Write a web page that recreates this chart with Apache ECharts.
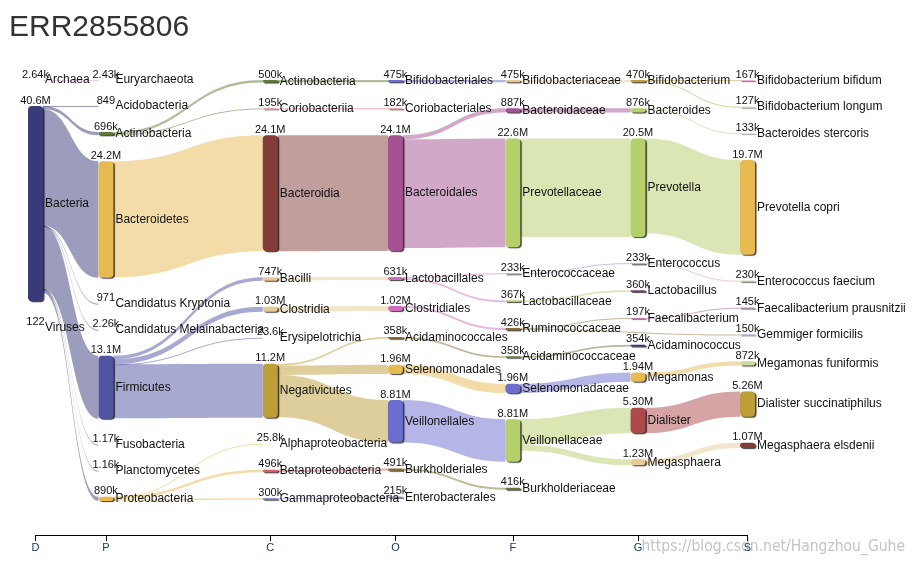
<!DOCTYPE html>
<html><head><meta charset="utf-8">
<script src="https://cdn.jsdelivr.net/npm/echarts@6/dist/echarts.min.js"></script>
<style>html,body{margin:0;padding:0;background:#fff}#c{width:912px;height:565px}</style>
</head><body><div id="c"></div>
<script>
// ---------------- data ----------------
const chartTitle = 'ERR2855806';
const watermark = 'https://blog.csdn.net/Hangzhou_Guhe';
const ranks = ['D', 'P', 'C', 'O', 'F', 'G', 'S'];
// [id, reads]  (text after '#' only makes ids unique)
const rankD = [['Archaea', 2640], ['Bacteria', 40.6e6], ['Viruses', 122]];
const rankP = [['Euryarchaeota', 2430], ['Acidobacteria', 849], ['Actinobacteria', 696e3], ['Bacteroidetes', 24.2e6],
  ['Candidatus Kryptonia', 971], ['Candidatus Melainabacteria', 2260], ['Firmicutes', 13.1e6],
  ['Fusobacteria', 1170], ['Planctomycetes', 1160], ['Proteobacteria', 890e3]];
const rankC = [['Actinobacteria#C', 500e3], ['Coriobacteriia', 195e3], ['Bacteroidia', 24.1e6], ['Bacilli', 747e3],
  ['Clostridia', 1.03e6], ['Erysipelotrichia', 23.6e3], ['Negativicutes', 11.2e6], ['Alphaproteobacteria', 25.8e3],
  ['Betaproteobacteria', 496e3], ['Gammaproteobacteria', 300e3]];
const rankO = [['Bifidobacteriales', 475e3], ['Coriobacteriales', 182e3], ['Bacteroidales', 24.1e6], ['Lactobacillales', 631e3],
  ['Clostridiales', 1.02e6], ['Acidaminococcales', 358e3], ['Selenomonadales', 1.96e6], ['Veillonellales', 8.81e6],
  ['Burkholderiales', 491e3], ['Enterobacterales', 215e3]];
const rankF = [['Bifidobacteriaceae', 475e3], ['Bacteroidaceae', 887e3], ['Prevotellaceae', 22.6e6], ['Enterococcaceae', 233e3],
  ['Lactobacillaceae', 367e3], ['Ruminococcaceae', 426e3], ['Acidaminococcaceae', 358e3], ['Selenomonadaceae', 1.96e6],
  ['Veillonellaceae', 8.81e6], ['Burkholderiaceae', 416e3]];
const rankG = [['Bifidobacterium', 470e3], ['Bacteroides', 876e3], ['Prevotella', 20.5e6], ['Enterococcus', 233e3],
  ['Lactobacillus', 360e3], ['Faecalibacterium', 197e3], ['Acidaminococcus', 354e3], ['Megamonas', 1.94e6],
  ['Dialister', 5.30e6], ['Megasphaera', 1.23e6]];
const rankS = [['Bifidobacterium bifidum', 167e3], ['Bifidobacterium longum', 127e3], ['Bacteroides stercoris', 133e3],
  ['Prevotella copri', 19.7e6], ['Enterococcus faecium', 230e3], ['Faecalibacterium prausnitzii', 145e3],
  ['Gemmiger formicilis', 150e3], ['Megamonas funiformis', 872e3], ['Dialister succinatiphilus', 5.26e6],
  ['Megasphaera elsdenii', 1.07e6]];
// [parent, child]
const treeEdges = [
  ['Archaea', 'Euryarchaeota'],
  ['Bacteria', 'Acidobacteria'], ['Bacteria', 'Actinobacteria'], ['Bacteria', 'Bacteroidetes'],
  ['Bacteria', 'Candidatus Kryptonia'], ['Bacteria', 'Candidatus Melainabacteria'], ['Bacteria', 'Firmicutes'],
  ['Bacteria', 'Fusobacteria'], ['Bacteria', 'Planctomycetes'], ['Bacteria', 'Proteobacteria'],
  ['Actinobacteria', 'Actinobacteria#C'], ['Actinobacteria', 'Coriobacteriia'],
  ['Bacteroidetes', 'Bacteroidia'],
  ['Firmicutes', 'Bacilli'], ['Firmicutes', 'Clostridia'], ['Firmicutes', 'Erysipelotrichia'], ['Firmicutes', 'Negativicutes'],
  ['Proteobacteria', 'Alphaproteobacteria'], ['Proteobacteria', 'Betaproteobacteria'], ['Proteobacteria', 'Gammaproteobacteria'],
  ['Actinobacteria#C', 'Bifidobacteriales'], ['Coriobacteriia', 'Coriobacteriales'], ['Bacteroidia', 'Bacteroidales'],
  ['Bacilli', 'Lactobacillales'], ['Clostridia', 'Clostridiales'],
  ['Negativicutes', 'Acidaminococcales'], ['Negativicutes', 'Selenomonadales'], ['Negativicutes', 'Veillonellales'],
  ['Betaproteobacteria', 'Burkholderiales'], ['Gammaproteobacteria', 'Enterobacterales'],
  ['Bifidobacteriales', 'Bifidobacteriaceae'], ['Bacteroidales', 'Bacteroidaceae'], ['Bacteroidales', 'Prevotellaceae'],
  ['Lactobacillales', 'Enterococcaceae'], ['Lactobacillales', 'Lactobacillaceae'], ['Clostridiales', 'Ruminococcaceae'],
  ['Acidaminococcales', 'Acidaminococcaceae'], ['Selenomonadales', 'Selenomonadaceae'], ['Veillonellales', 'Veillonellaceae'],
  ['Burkholderiales', 'Burkholderiaceae'],
  ['Bifidobacteriaceae', 'Bifidobacterium'], ['Bacteroidaceae', 'Bacteroides'], ['Prevotellaceae', 'Prevotella'],
  ['Enterococcaceae', 'Enterococcus'], ['Lactobacillaceae', 'Lactobacillus'], ['Ruminococcaceae', 'Faecalibacterium'],
  ['Ruminococcaceae', 'Gemmiger formicilis'], ['Acidaminococcaceae', 'Acidaminococcus'], ['Selenomonadaceae', 'Megamonas'],
  ['Veillonellaceae', 'Dialister'], ['Veillonellaceae', 'Megasphaera'],
  ['Bifidobacterium', 'Bifidobacterium bifidum'], ['Bifidobacterium', 'Bifidobacterium longum'],
  ['Bacteroides', 'Bacteroides stercoris'], ['Prevotella', 'Prevotella copri'], ['Enterococcus', 'Enterococcus faecium'],
  ['Faecalibacterium', 'Faecalibacterium prausnitzii'], ['Megamonas', 'Megamonas funiformis'],
  ['Dialister', 'Dialister succinatiphilus'], ['Megasphaera', 'Megasphaera elsdenii']
];

// ---------------- styles / layout ----------------
const columnSlot = [0, 9, 30, 46, 61, 77, 91]; // horizontal column slots of the ranks
const nodeColor = {
  'Archaea': '#de9ed6', 'Bacteria': '#393b79', 'Viruses': '#9c9ede',
  'Euryarchaeota': '#e7969c', 'Acidobacteria': '#9c9ede', 'Actinobacteria': '#637939', 'Bacteroidetes': '#e7ba52',
  'Candidatus Kryptonia': '#cedb9c', 'Candidatus Melainabacteria': '#9c9ede', 'Firmicutes': '#5254a3',
  'Fusobacteria': '#9c9ede', 'Planctomycetes': '#9c9ede', 'Proteobacteria': '#e7ba52',
  'Actinobacteria#C': '#637939', 'Coriobacteriia': '#d6616b', 'Bacteroidia': '#843c39', 'Bacilli': '#e7cb94',
  'Clostridia': '#e7cb94', 'Erysipelotrichia': '#9c9ede', 'Negativicutes': '#bd9e39', 'Alphaproteobacteria': '#e7cb94',
  'Betaproteobacteria': '#d6616b', 'Gammaproteobacteria': '#6b6ecf',
  'Bifidobacteriales': '#6b6ecf', 'Coriobacteriales': '#e7969c', 'Bacteroidales': '#a55194', 'Lactobacillales': '#ce6dbd',
  'Clostridiales': '#ce6dbd', 'Acidaminococcales': '#8c6d31', 'Selenomonadales': '#e7ba52', 'Veillonellales': '#6b6ecf',
  'Burkholderiales': '#8c6d31', 'Enterobacterales': '#6b6ecf',
  'Bifidobacteriaceae': '#e7cb94', 'Bacteroidaceae': '#a55194', 'Prevotellaceae': '#b5cf6b', 'Enterococcaceae': '#9c9ede',
  'Lactobacillaceae': '#b5cf6b', 'Ruminococcaceae': '#8c6d31', 'Acidaminococcaceae': '#637939', 'Selenomonadaceae': '#6b6ecf',
  'Veillonellaceae': '#b5cf6b', 'Burkholderiaceae': '#637939',
  'Bifidobacterium': '#bd9e39', 'Bacteroides': '#b5cf6b', 'Prevotella': '#b5cf6b', 'Enterococcus': '#de9ed6',
  'Lactobacillus': '#7b4173', 'Faecalibacterium': '#a55194', 'Acidaminococcus': '#393b79', 'Megamonas': '#e7ba52',
  'Dialister': '#ad494a', 'Megasphaera': '#e7cb94',
  'Bifidobacterium bifidum': '#de9ed6', 'Bifidobacterium longum': '#e7cb94', 'Bacteroides stercoris': '#cedb9c',
  'Prevotella copri': '#e7ba52', 'Enterococcus faecium': '#b5cf6b', 'Faecalibacterium prausnitzii': '#7b4173',
  'Gemmiger formicilis': '#9c9ede', 'Megamonas funiformis': '#cedb9c', 'Dialister succinatiphilus': '#bd9e39',
  'Megasphaera elsdenii': '#843c39'
};

const rankLists = [rankD, rankP, rankC, rankO, rankF, rankG, rankS];
const reads = {};
const nodes = [];
rankLists.forEach((list, r) => list.forEach(([id, v]) => {
  reads[id] = v;
  nodes.push({ name: id, value: v, depth: columnSlot[r], itemStyle: { color: nodeColor[id] } });
}));
const links = treeEdges.map(([s, t]) => ({ source: s, target: t, value: reads[t] }));

const fmt = v => v >= 1e6 ? (v / 1e6).toPrecision(3) + 'M' : v >= 1e3 ? (v / 1e3).toPrecision(3) + 'k' : String(v);
const labelOf = id => id.split('#')[0];
const FONT = 'Arial, "Liberation Sans", sans-serif';

const sankeyBase = {
  type: 'sankey', left: 28, right: 157, top: 80, bottom: 64,
  nodeWidth: 15, nodeGap: 26, nodeAlign: 'left', layoutIterations: 0,
  draggable: false, emphasis: { disabled: true }, animation: false
};

const chart = echarts.init(document.getElementById('c'));
chart.setOption({
  backgroundColor: '#fff',
  animation: false,
  title: { text: chartTitle, left: 4, top: 8, textStyle: { fontSize: 30, fontWeight: 'normal', color: '#333', fontFamily: FONT } },
  graphic: [{ type: 'text', right: 7, top: 539, style: { text: watermark, fill: '#c4c4c4', font: '15.5px "Liberation Sans Narrow", "DejaVu Sans Condensed", sans-serif' } }],
  grid: { left: 35.5, right: 164.5, top: 480, bottom: 30 },
  xAxis: {
    type: 'value', min: 0, max: columnSlot[columnSlot.length - 1],
    splitLine: { show: false },
    axisLine: { show: true, lineStyle: { color: '#000', width: 1 } },
    axisTick: { show: true, length: 6, lineStyle: { color: '#000' }, customValues: columnSlot },
    axisLabel: { show: true, margin: 7, fontSize: 11, color: '#123a66', fontFamily: FONT, customValues: columnSlot,
      formatter: v => ranks[columnSlot.indexOf(v)] || '' }
  },
  yAxis: { type: 'value', show: false },
  series: [
    Object.assign({}, sankeyBase, {
      data: nodes, links: links,
      itemStyle: { borderRadius: 4, borderWidth: 0, shadowColor: 'rgba(0,0,0,0.75)', shadowOffsetX: 1.5, shadowOffsetY: 1, shadowBlur: 1 },
      lineStyle: { color: 'source', opacity: 0.5, curveness: 0.5 },
      label: { show: true, position: 'right', distance: 2, fontSize: 12, color: '#111', fontFamily: FONT,
        formatter: p => labelOf(p.name) }
    }),
    Object.assign({}, sankeyBase, {
      silent: true,
      data: nodes.map(n => ({ name: n.name, value: n.value, depth: n.depth, itemStyle: { color: 'rgba(0,0,0,0)' } })),
      links: links,
      itemStyle: { borderWidth: 0 },
      lineStyle: { color: 'rgba(0,0,0,0)', opacity: 0 },
      label: { show: true, position: 'top', distance: 0, fontSize: 11, color: '#111', fontFamily: FONT,
        formatter: p => fmt(reads[p.name]) }
    })
  ]
});
</script></body></html>
